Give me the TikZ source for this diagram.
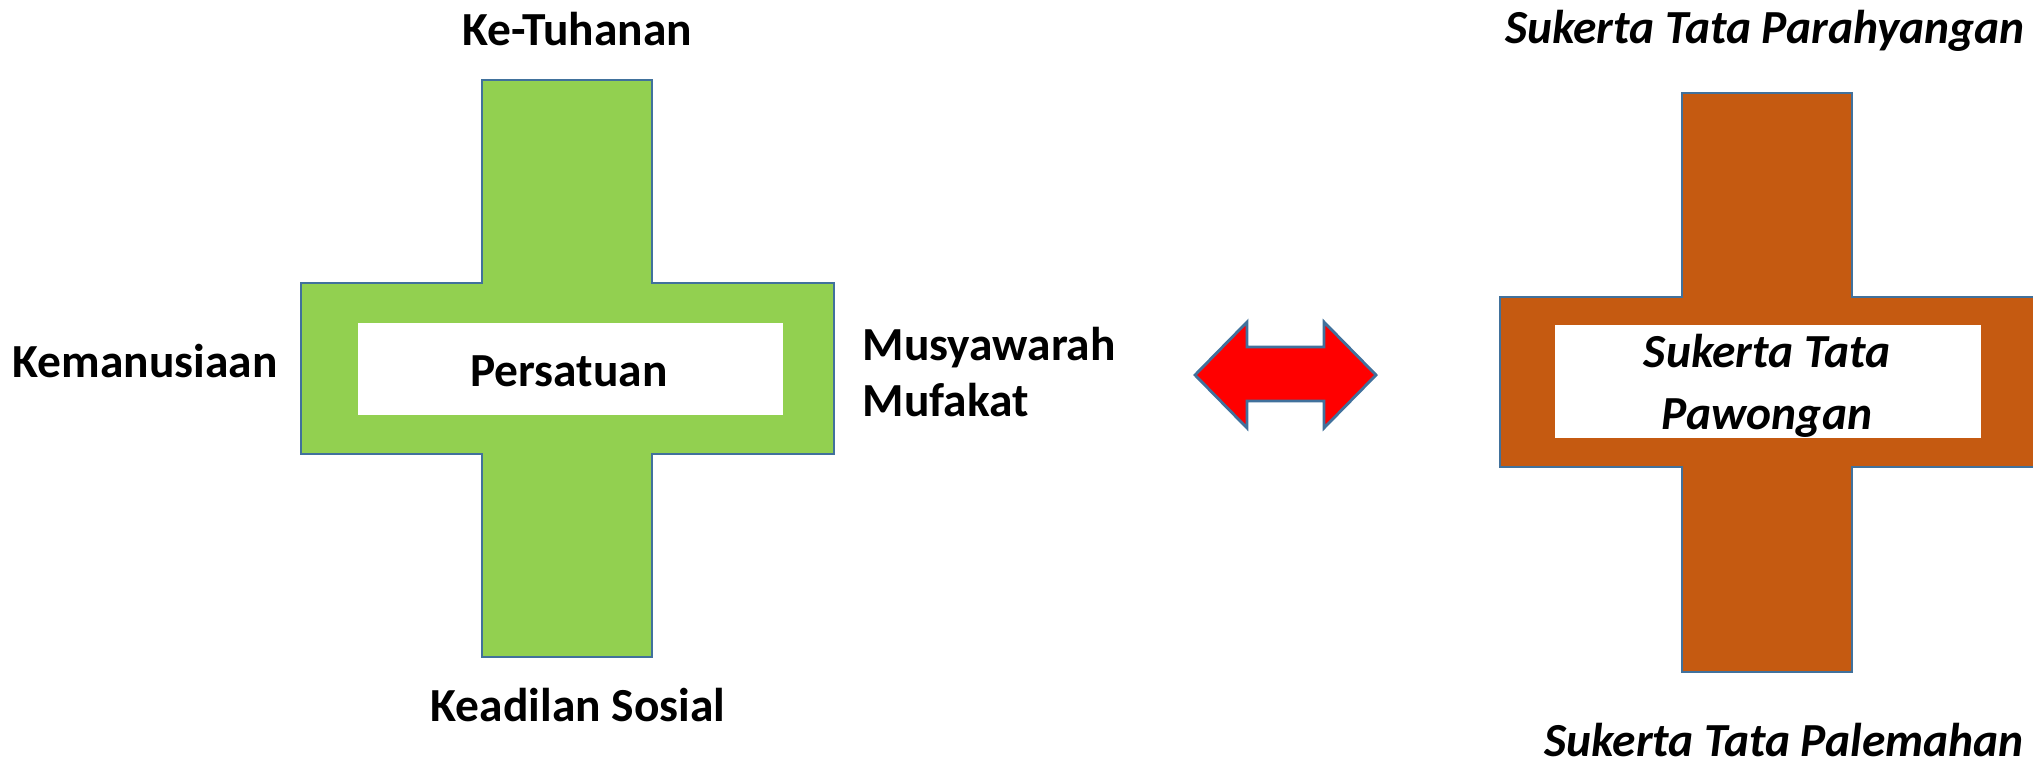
\documentclass[tikz,border=0pt]{standalone}
\usepackage{fontspec}
\setmainfont{Carlito}
\definecolor{crossgreen}{HTML}{92D050}
\definecolor{crossbrown}{HTML}{C55A11}
\definecolor{edgeblue}{HTML}{41719C}

\begin{document}
\begin{tikzpicture}[x=0.1mm, y=-0.1mm]
	\tikzset{lbl/.style={font=\fontsize{13.5}{16}\selectfont\bfseries, inner sep=0pt}}
	\tikzset{ilbl/.style={font=\fontsize{13.5}{17.6}\selectfont\bfseries\itshape, inner sep=0pt}}
	\tikzset{crossline/.style={draw=edgeblue, line width=0.6pt}}
	\tikzset{whitebox/.style={fill=white, inner sep=0pt}}
	\useasboundingbox (0,0) rectangle (2033,764);
	\clip (0,0) rectangle (2033,764);

	\draw[crossline, fill=crossgreen] (482,80) -- (652,80) -- (652,283) -- (834,283) -- (834,454) -- (652,454)
		-- (652,657) -- (482,657) -- (482,454) -- (301,454) -- (301,283) -- (482,283) -- cycle;
	\node[whitebox, minimum width=42.5mm, minimum height=9.2mm] (persatuan) at (570.5,369) {};
	\node[lbl] (persatuanlbl) at (569,371) {Persatuan};

	\node[lbl] (tuhan) at (577,29) {Ke-Tuhanan};
	\node[lbl] (manusia) at (145,361) {Kemanusiaan};
	\node[lbl, anchor=west, align=left] (musyawarah) at (862,372) {Musyawarah\\Mufakat};
	\node[lbl] (adil) at (578,705) {Keadilan Sosial};

	\draw[draw=edgeblue, line width=0.8pt, fill=red] (1195,375) -- (1247,322) -- (1247,347) -- (1324,347) -- (1324,322)
		-- (1376,375) -- (1324,428) -- (1324,401) -- (1247,401) -- (1247,428) -- cycle;

	\draw[crossline, fill=crossbrown] (1682,93) -- (1852,93) -- (1852,297) -- (2034,297) -- (2034,467) -- (1852,467)
		-- (1852,672) -- (1682,672) -- (1682,467) -- (1500,467) -- (1500,297) -- (1682,297) -- cycle;
	\node[whitebox, minimum width=42.6mm, minimum height=11.3mm] (pawongan) at (1768,381.5) {};
	\node[ilbl, align=center] (pawonganlbl) at (1767,386) {Sukerta Tata\\Pawongan};

	\node[ilbl] (parahyangan) at (1765,31) {Sukerta Tata Parahyangan};
	\node[ilbl] (palemahan) at (1784,740) {Sukerta Tata Palemahan};
\end{tikzpicture}
\end{document}
